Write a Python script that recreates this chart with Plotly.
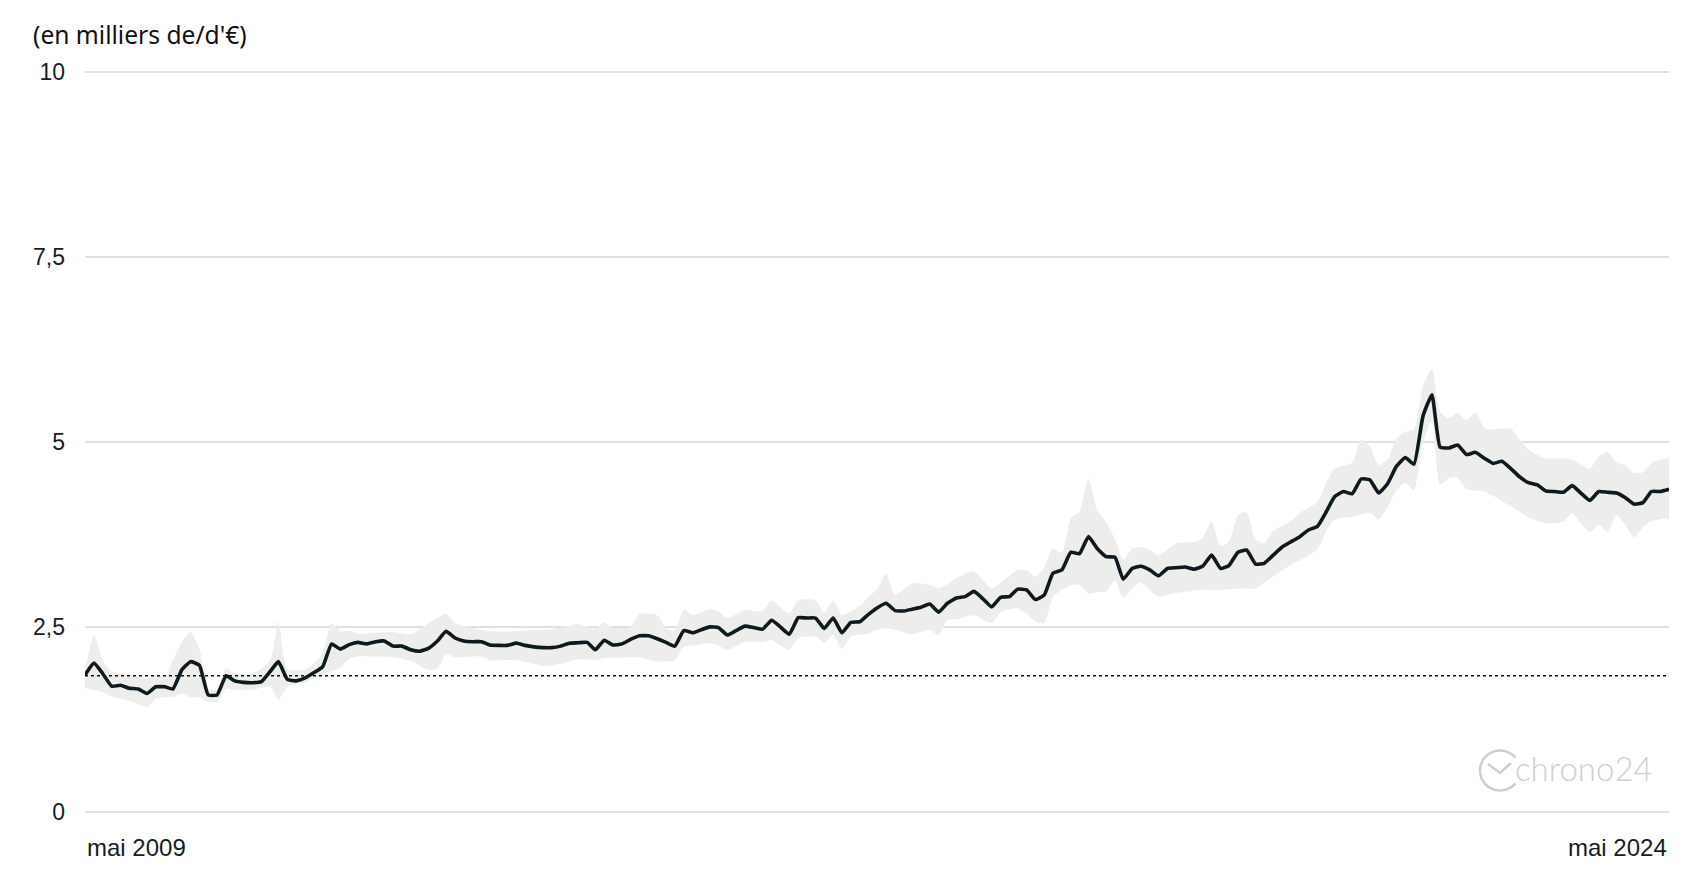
"""
Price history chart: median price line with a min/max band (en milliers d'€).
"""

import numpy as np
import pandas as pd
import plotly.graph_objects as go

# ------------------------------------------------------------------
# Data (monthly, mai 2009 -> mai 2024)
# ------------------------------------------------------------------
START_MONTH = "2009-05-01"

price = [
    1.85, 2.01, 1.87, 1.70, 1.71, 1.67, 1.66, 1.60, 1.69, 1.69, 1.66,
    1.92, 2.03, 1.98, 1.58, 1.58, 1.84, 1.77, 1.75, 1.745, 1.76,
    1.90, 2.03, 1.79, 1.77, 1.81, 1.88, 1.96, 2.27, 2.20, 2.26,
    2.29, 2.27, 2.30, 2.31, 2.24, 2.24, 2.19, 2.17, 2.21, 2.31,
    2.44, 2.35, 2.31, 2.30, 2.30, 2.255, 2.25, 2.25, 2.28, 2.25,
    2.23, 2.22, 2.22, 2.24, 2.28, 2.285, 2.29, 2.19, 2.32, 2.255,
    2.27, 2.33, 2.38, 2.38, 2.34, 2.29, 2.24, 2.45, 2.42, 2.46,
    2.50, 2.49, 2.39, 2.45, 2.51, 2.49, 2.47, 2.59, 2.50, 2.40,
    2.625, 2.62, 2.62, 2.48, 2.62, 2.42, 2.56, 2.57, 2.67, 2.76,
    2.82, 2.72, 2.715, 2.74, 2.765, 2.81, 2.70, 2.82, 2.89, 2.91,
    2.98, 2.88, 2.77, 2.90, 2.91, 3.01, 3.00, 2.87, 2.93, 3.225,
    3.27, 3.51, 3.49, 3.72, 3.56, 3.45, 3.44, 3.145, 3.29, 3.32,
    3.27, 3.19, 3.29, 3.30, 3.31, 3.28, 3.32, 3.47, 3.29, 3.33,
    3.51, 3.54, 3.35, 3.36, 3.47, 3.58, 3.65, 3.72, 3.81, 3.86,
    4.06, 4.26, 4.33, 4.30, 4.50, 4.49, 4.31, 4.44, 4.67, 4.79,
    4.70, 5.35, 5.64, 4.93, 4.92, 4.96, 4.83, 4.86, 4.78, 4.71,
    4.74, 4.64, 4.53, 4.45, 4.42, 4.34, 4.33, 4.32, 4.41, 4.31,
    4.21, 4.33, 4.32, 4.31, 4.25, 4.16, 4.18, 4.33, 4.33, 4.36,
]

# band knots: month index since mai 2009, upper and lower bound
band_month = [
    0, 1, 2, 3, 5, 7, 8, 9, 10, 11, 12, 13, 14, 15, 16, 17, 19, 21, 22, 23,
    25, 26, 27, 28, 29, 30, 31, 33, 35, 37, 39, 40, 41, 42, 45, 46, 49, 51, 52, 54,
    56, 58, 59, 60, 62, 63, 65, 66, 67, 68, 69, 71, 72, 73, 75, 77, 78, 80, 81, 83,
    84, 85, 86, 87, 88, 89, 90, 91, 92, 94, 96, 97, 98, 99, 101, 103, 104, 106, 107, 108,
    109, 110, 111, 112, 113, 114, 115, 116, 117, 118, 119, 120, 121, 122, 124, 126, 127, 128, 129, 130,
    131, 132, 133, 134, 135, 137, 138, 140, 141, 142, 144, 145, 146, 147, 148, 149, 150, 151, 152, 153,
    154, 155, 156, 157, 158, 159, 160, 162, 163, 164, 166, 168, 169, 170, 171, 172, 173, 174, 175, 176,
    177, 178, 179, 180,
]
band_high = [
    1.90, 2.39, 2.05, 1.90, 1.86, 1.80, 1.85, 1.81, 2.05, 2.30, 2.43, 2.20, 1.66, 1.66, 1.94, 1.87, 1.87, 2.05, 2.57, 1.93,
    1.92, 2.00, 2.15, 2.55, 2.44, 2.45, 2.41, 2.42, 2.43, 2.40, 2.55, 2.62, 2.68, 2.55, 2.46, 2.44, 2.44, 2.46, 2.46, 2.49,
    2.54, 2.48, 2.56, 2.49, 2.50, 2.67, 2.66, 2.48, 2.45, 2.73, 2.66, 2.74, 2.71, 2.62, 2.73, 2.71, 2.86, 2.68, 2.86, 2.86,
    2.69, 2.86, 2.66, 2.71, 2.78, 2.90, 3.02, 3.22, 2.93, 3.09, 3.07, 3.02, 3.08, 3.16, 3.25, 3.02, 3.10, 3.27, 3.27, 3.18,
    3.30, 3.56, 3.50, 3.97, 4.06, 4.51, 4.08, 3.92, 3.68, 3.41, 3.56, 3.58, 3.54, 3.47, 3.63, 3.65, 3.70, 3.92, 3.59, 3.65,
    4.01, 4.06, 3.68, 3.63, 3.80, 3.93, 4.04, 4.19, 4.45, 4.64, 4.72, 5.03, 4.94, 4.69, 4.76, 5.05, 5.14, 5.17, 5.75, 5.99,
    5.41, 5.32, 5.39, 5.30, 5.40, 5.19, 5.17, 5.18, 5.03, 4.90, 4.78, 4.78, 4.76, 4.70, 4.64, 4.80, 4.87, 4.72, 4.69, 4.58,
    4.59, 4.72, 4.76, 4.78,
]
band_low = [
    1.67, 1.65, 1.62, 1.56, 1.50, 1.42, 1.53, 1.55, 1.55, 1.60, 1.55, 1.55, 1.49, 1.49, 1.66, 1.65, 1.65, 1.69, 1.51, 1.69,
    1.75, 1.80, 1.85, 1.90, 1.95, 2.07, 2.10, 2.10, 2.09, 2.04, 1.92, 1.94, 2.14, 2.09, 2.10, 2.05, 2.05, 2.00, 1.97, 2.00,
    2.06, 2.05, 2.08, 2.08, 2.09, 2.09, 2.03, 2.04, 2.04, 2.23, 2.25, 2.28, 2.25, 2.19, 2.30, 2.30, 2.32, 2.19, 2.35, 2.37,
    2.28, 2.39, 2.20, 2.37, 2.39, 2.41, 2.46, 2.48, 2.46, 2.40, 2.46, 2.39, 2.59, 2.60, 2.66, 2.55, 2.70, 2.75, 2.68, 2.57,
    2.55, 2.91, 3.00, 3.06, 3.07, 2.95, 2.97, 2.98, 3.13, 2.89, 3.02, 3.10, 3.00, 2.91, 2.96, 2.99, 3.00, 3.00, 3.00, 3.01,
    3.02, 3.02, 3.02, 3.10, 3.18, 3.34, 3.40, 3.55, 3.80, 3.95, 3.99, 4.02, 4.04, 3.95, 4.12, 4.35, 4.45, 4.35, 5.00, 5.28,
    4.43, 4.51, 4.52, 4.36, 4.34, 4.33, 4.27, 4.13, 4.06, 3.98, 3.90, 3.92, 4.04, 3.90, 3.78, 3.88, 3.78, 4.01, 3.88, 3.71,
    3.85, 3.93, 3.96, 3.97,
]

reference_price = 1.84

y_tick_vals = [0, 2.5, 5, 7.5, 10]
y_tick_text = ["0", "2,5", "5", "7,5", "10"]
x_start_label = "mai 2009"
x_end_label = "mai 2024"
unit_label = "(en milliers de/d'€)"

# ------------------------------------------------------------------
# Style
# ------------------------------------------------------------------
LINE_COLOR = "#0f1a1e"
BAND_COLOR = "#ededec"
GRID_COLOR = "#dfe1e1"
TEXT_COLOR = "#161e22"
WATERMARK_COLOR = "#cfcfcf"
SANS = "Liberation Sans, Arial, sans-serif"

# the page body keeps an 8px margin, so the figure is a bit smaller
PAGE_OFFSET = 8
W, H = 1692, 866
M_L, M_R, M_T, M_B = 77, 31, 62, 60
PLOT_W = W - M_L - M_R
PLOT_H = H - M_T - M_B
Y_PAD = 0.03  # keeps the 0 and 10 gridlines inside the plot area


def px_to_paper(px, py):
    """Convert page pixels to paper coordinates (for decorations only)."""
    return ((px - PAGE_OFFSET - M_L) / PLOT_W,
            (H - M_B - (py - PAGE_OFFSET)) / PLOT_H)


def watermark_shapes():
    """Clock-like logo next to the 'chrono24' watermark."""
    cx, cy, r = 1500, 770.5, 20
    ang = np.radians(np.linspace(40, 320, 60))
    pts = [px_to_paper(cx + r * np.cos(a), cy - r * np.sin(a)) for a in ang]
    arc = "M " + " L ".join(f"{x:.5f},{y:.5f}" for x, y in pts)
    check = [px_to_paper(1488, 764), px_to_paper(1500, 773), px_to_paper(1511, 763)]
    tick = "M " + " L ".join(f"{x:.5f},{y:.5f}" for x, y in check)
    style = dict(type="path", xref="paper", yref="paper",
                 line=dict(color=WATERMARK_COLOR, width=2.5), layer="above")
    return [dict(path=arc, **style), dict(path=tick, **style)]


def build_figure() -> go.Figure:
    months = pd.date_range(START_MONTH, periods=len(price), freq="MS")
    band_dates = months[band_month]

    fig = go.Figure()

    # min/max band
    fig.add_trace(go.Scatter(
        x=list(band_dates) + list(band_dates[::-1]),
        y=band_high + band_low[::-1],
        fill="toself", fillcolor=BAND_COLOR,
        line=dict(width=0, shape="spline", smoothing=0.6),
        mode="lines", hoverinfo="skip", showlegend=False,
    ))

    # reference (dotted) line
    fig.add_trace(go.Scatter(
        x=[months[0], months[-1]], y=[reference_price, reference_price],
        mode="lines", line=dict(color="#111111", width=1.6, dash="3px,3px"),
        hoverinfo="skip", showlegend=False,
    ))

    # price line
    fig.add_trace(go.Scatter(
        x=months, y=price, mode="lines",
        line=dict(color=LINE_COLOR, width=3.6, shape="spline", smoothing=0.4),
        showlegend=False,
    ))

    label_y = px_to_paper(0, 847)[1]
    fig.update_layout(
        width=W, height=H,
        paper_bgcolor="white", plot_bgcolor="white",
        margin=dict(l=M_L, r=M_R, t=M_T, b=M_B),
        font=dict(family=SANS, color=TEXT_COLOR, size=23),
        xaxis=dict(
            range=[months[0], months[-1]],
            showgrid=False, showticklabels=False, zeroline=False, showline=False,
        ),
        yaxis=dict(
            range=[-Y_PAD, 10 + Y_PAD], tickvals=y_tick_vals, ticktext=y_tick_text,
            showgrid=True, gridcolor=GRID_COLOR, gridwidth=1.5,
            zeroline=False, showline=False, ticks="",
            ticklabelstandoff=19,
            tickfont=dict(family=SANS, size=23, color=TEXT_COLOR),
        ),
        shapes=watermark_shapes(),
        annotations=[
            dict(text=unit_label, xref="paper", yref="paper",
                 x=px_to_paper(31, 0)[0], y=px_to_paper(0, 35)[1],
                 xanchor="left", yanchor="middle", showarrow=False,
                 font=dict(family="Noto Sans, Open Sans, sans-serif", size=24.6, color="#111111")),
            dict(text=x_start_label, xref="x", yref="paper",
                 x=months[0], y=label_y,
                 xanchor="left", yanchor="middle", showarrow=False,
                 font=dict(size=24)),
            dict(text=x_end_label, xref="x", yref="paper",
                 x=months[-1], y=label_y,
                 xanchor="right", yanchor="middle", showarrow=False,
                 font=dict(size=24)),
            dict(text="chrono24", xref="paper", yref="paper",
                 x=px_to_paper(1513, 0)[0], y=px_to_paper(0, 768)[1],
                 xanchor="left", yanchor="middle", showarrow=False,
                 font=dict(family="Lato, sans-serif", size=33, color=WATERMARK_COLOR, weight=300)),
        ],
    )
    return fig


if __name__ == "__main__":
    fig = build_figure()
    fig.write_html("out.html")
